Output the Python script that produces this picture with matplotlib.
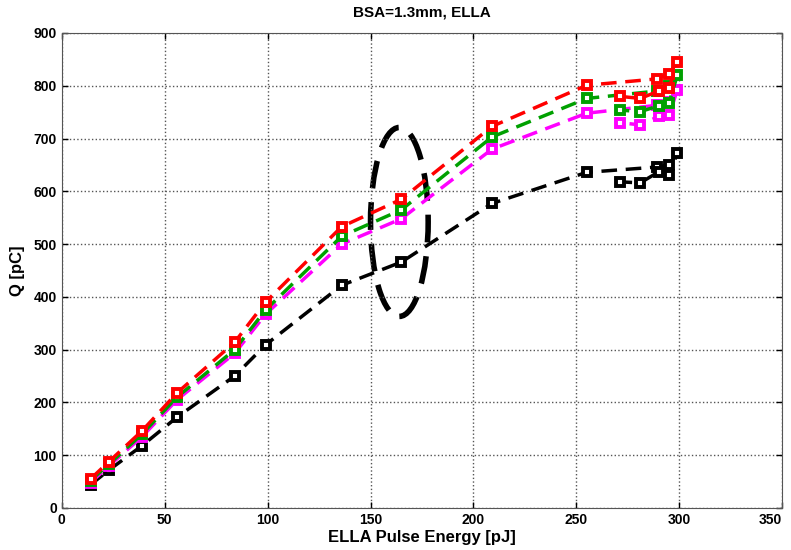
import matplotlib
matplotlib.use("Agg")
import matplotlib.pyplot as plt
from matplotlib.patches import Ellipse

plt.rcParams['font.family'] = ['Liberation Sans', 'DejaVu Sans']

energy = [14, 23, 39, 56, 84, 99, 136, 165, 209, 255, 289, 295, 299, 295, 290, 281, 271]
q_red = [55, 88, 146, 218, 314, 390, 533, 585, 723, 801, 813, 823, 845, 795, 790, 776, 780]
q_green = [52, 83, 140, 210, 300, 375, 515, 565, 703, 776, 790, 800, 820, 768, 762, 751, 754]
q_magenta = [48, 80, 135, 205, 293, 367, 500, 548, 680, 748, 763, 770, 792, 744, 742, 726, 730]
q_black = [44, 72, 118, 172, 250, 309, 422, 466, 577, 636, 646, 650, 672, 631, 637, 616, 618]

series = [(q_black, 'black'), (q_magenta, 'magenta'), (q_green, '#00a000'), (q_red, 'red')]

fig = plt.figure(figsize=(7.91, 5.5), dpi=100)
ax = fig.add_axes([0.078, 0.0764, 0.911, 0.8636])

for q, c in series:
    ax.plot(energy, q, linestyle='--', color=c, lw=2.5, marker='s', ms=5.5,
            mfc='white', mec=c, mew=2.8, dashes=(4.5, 2.5))

ell = Ellipse((164, 542), 28, 358, fill=False, ec='black', lw=4, ls=(0, (5, 2.5)))
ax.add_patch(ell)

ax.set_xlim(0, 350)
ax.set_ylim(0, 900)
ax.set_xticks(range(0, 351, 50))
ax.set_yticks(range(0, 901, 100))
ax.grid(True, linestyle=':', color='#555555', lw=1)
ax.tick_params(direction='in', labelsize=10, width=1, length=4, top=True, right=True, labeltop=False, labelright=False)
for lbl in ax.get_xticklabels() + ax.get_yticklabels():
    lbl.set_fontweight('bold')
ax.get_xticklabels()[-1].set_horizontalalignment('right')
for s in ax.spines.values():
    s.set_color('#555555')
ax.set_xlabel('ELLA Pulse Energy [pJ]', fontsize=12, fontweight='bold', labelpad=2)
ax.set_ylabel('Q [pC]', fontsize=12, fontweight='bold', labelpad=6)
ax.set_title('BSA=1.3mm, ELLA', fontsize=11, fontweight='bold', pad=12)

fig.savefig('out.png', dpi=100)
